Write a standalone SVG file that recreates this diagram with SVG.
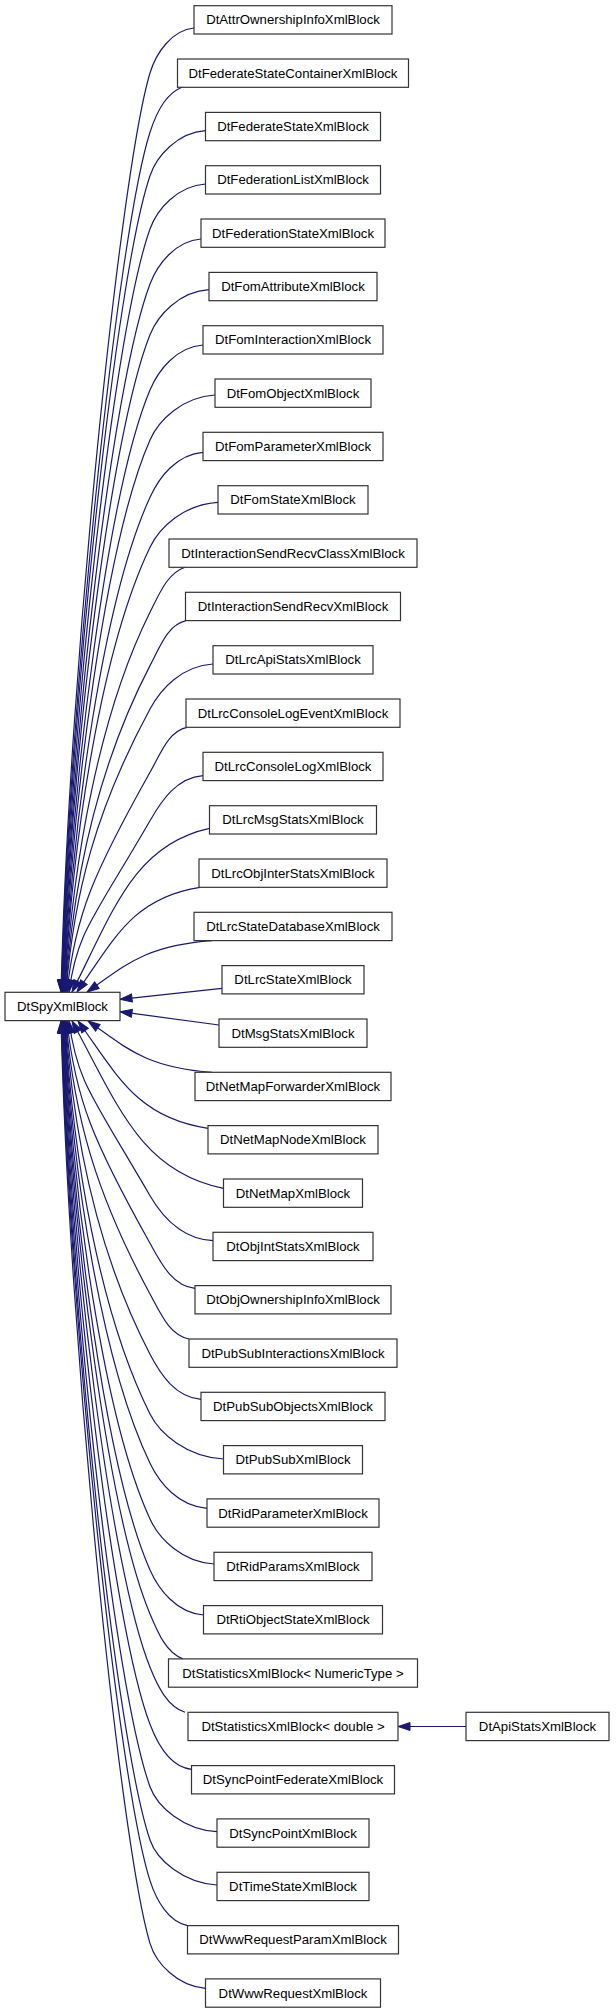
<svg xmlns="http://www.w3.org/2000/svg" width="616" height="2013" viewBox="0 0 616 2013">
<style>
.n rect{fill:#fff;stroke:#333;stroke-width:1.2}
.n text{font-family:"Liberation Sans",Arial,sans-serif;font-size:13.2px;text-anchor:middle;fill:#000}
.e path{fill:none;stroke:#191970;stroke-width:1.2;marker-end:url(#arr)}
</style>
<defs>
<marker id="arr" markerWidth="12" markerHeight="8" refX="12" refY="4" orient="auto" markerUnits="userSpaceOnUse" overflow="visible">
<path d="M0,0 L12,4 L0,8 Z" fill="#191970" stroke="#191970" stroke-width="1"/>
</marker>
</defs>
<rect width="616" height="2013" fill="#fff"/>
<g id="edges" class="e">
<path d="M194,28 C172,30 156,53 150,73 C120,173 69,670.4 61,992"/>
<path d="M182,87.3 C166,93.3 156.4,112.3 150,132.3 C118,232.3 69.4,691.1 61.4,992"/>
<path d="M205.5,130.7 C177.5,132.7 156.8,155.7 150,175.7 C116,275.7 69.8,706.3 61.8,992"/>
<path d="M205.5,184 C177.5,186 157.2,209 150,229 C114,329 70.2,725 62.2,992"/>
<path d="M201,239 C175.5,241 157.6,264 150,284 C112,384 70.6,744.2 62.6,992"/>
<path d="M209,289.7 C179.5,291.7 158,314.7 150,334.7 C110,434.7 71,761.9 63,992"/>
<path d="M203,345 C176.5,347 158.4,370 150,390 C108,490 71.4,781.3 63.4,992"/>
<path d="M215,395 C182.5,397 158.8,420 150,440 C106,540 71.8,798.8 63.8,992"/>
<path d="M203,452.3 C176.5,454.3 159.2,477.3 150,497.3 C104,597.3 72.2,818.9 64.2,992"/>
<path d="M218,502.3 C184,504.3 159.6,527.3 150,547.3 C102,647.3 72.6,836.4 64.6,992"/>
<path d="M185,567.3 C167.5,573.3 160,592.3 150,612.3 C100,712.3 73,859.1 65,992"/>
<path d="M186,620.6 C168,624.6 160.4,645.6 150,665.6 C98,765.6 73.5,877.8 65.5,992"/>
<path d="M213,664 C181.5,666 160.8,689 150,709 C96,809 74,893 66,992"/>
<path d="M187,727.3 C168.5,731.3 161.2,752.3 150,772.3 C94,872.3 75,915.1 67,992"/>
<path d="M203,775.7 C176.5,777.7 161.6,800.7 150,820.7 C92,920.7 77,932 69,992"/>
<path d="M209.5,828.3 C134.1,844.7 113.4,910.2 72,992"/>
<path d="M200,887.3 C132.4,897.8 113.9,939.6 77,992"/>
<path d="M212,940.6 C143.3,945.7 124.5,966.3 87,992"/>
<path d="M222,988.3 L120,999.3"/>
<path d="M219,1025 L120,1011.7"/>
<path d="M212,1072.3 C143.8,1067.2 125.2,1046.7 88,1021"/>
<path d="M208,1128.3 C136.5,1117.6 117,1074.7 78,1021"/>
<path d="M223.5,1188.3 C140.4,1171.6 117.6,1104.7 72,1021"/>
<path d="M213,1240.7 C181.5,1238.7 161.6,1215.7 150,1195.7 C92,1095.7 77,1082.1 69,1021"/>
<path d="M195,1288.3 C172.5,1286.3 161.2,1263.3 150,1243.3 C94,1143.3 75,1098.8 67,1021"/>
<path d="M189,1339 C169.5,1335 160.8,1314 150,1294 C96,1194 74,1116.6 66,1021"/>
<path d="M201,1399.3 C175.5,1397.3 160.4,1374.3 150,1354.3 C98,1254.3 73.5,1137.7 65.5,1021"/>
<path d="M223.5,1459 C187,1457 160,1434 150,1414 C100,1314 73,1158.6 65,1021"/>
<path d="M207,1508.3 C178.5,1506.3 159.6,1483.3 150,1463.3 C102,1363.3 72.6,1175.8 64.6,1021"/>
<path d="M214,1564 C182,1562 159.2,1539 150,1519 C104,1419 72.2,1195.3 64.2,1021"/>
<path d="M203.5,1615 C177,1613 158.8,1590 150,1570 C106,1470 71.8,1213.2 63.8,1021"/>
<path d="M183,1658.9 C166.5,1652.9 158.4,1633.9 150,1613.9 C108,1513.9 71.4,1228.5 63.4,1021"/>
<path d="M185,1712.3 C167.5,1706.3 158,1687.3 150,1667.3 C110,1567.3 71,1247.2 63,1021"/>
<path d="M191.5,1769.3 C170.5,1767.3 157.6,1744.3 150,1724.3 C112,1624.3 70.6,1267.2 62.6,1021"/>
<path d="M217,1831.7 C183.5,1829.7 157.2,1806.7 150,1786.7 C114,1686.7 70.2,1289 62.2,1021"/>
<path d="M217,1885 C183.5,1883 156.8,1860 150,1840 C116,1740 69.8,1307.7 61.8,1021"/>
<path d="M187.5,1925.6 C168.5,1921.6 156.4,1900.6 150,1880.6 C118,1780.6 69.4,1321.9 61.4,1021"/>
<path d="M205.5,1988.3 C177.5,1986.3 156,1963.3 150,1943.3 C120,1843.3 69,1343.8 61,1021"/>
<path d="M466,1726.5 L398,1726.5"/>
</g>
<g id="DtSpyXmlBlock" class="n"><rect x="5" y="992.3" width="115" height="28.3"/><text x="62.5" y="1011">DtSpyXmlBlock</text></g>
<g id="DtAttrOwnershipInfoXmlBlock" class="n"><rect x="194" y="5.7" width="198" height="28.3"/><text x="293" y="24.4">DtAttrOwnershipInfoXmlBlock</text></g>
<g id="DtFederateStateContainerXmlBlock" class="n"><rect x="177.5" y="59" width="231" height="28.3"/><text x="293" y="77.7">DtFederateStateContainerXmlBlock</text></g>
<g id="DtFederateStateXmlBlock" class="n"><rect x="205.5" y="112.4" width="175" height="28.3"/><text x="293" y="131.1">DtFederateStateXmlBlock</text></g>
<g id="DtFederationListXmlBlock" class="n"><rect x="205.5" y="165.7" width="175" height="28.3"/><text x="293" y="184.4">DtFederationListXmlBlock</text></g>
<g id="DtFederationStateXmlBlock" class="n"><rect x="201" y="219" width="184" height="28.3"/><text x="293" y="237.7">DtFederationStateXmlBlock</text></g>
<g id="DtFomAttributeXmlBlock" class="n"><rect x="209" y="272.4" width="168" height="28.3"/><text x="293" y="291.1">DtFomAttributeXmlBlock</text></g>
<g id="DtFomInteractionXmlBlock" class="n"><rect x="203" y="325.7" width="180" height="28.3"/><text x="293" y="344.4">DtFomInteractionXmlBlock</text></g>
<g id="DtFomObjectXmlBlock" class="n"><rect x="215" y="379" width="156" height="28.3"/><text x="293" y="397.7">DtFomObjectXmlBlock</text></g>
<g id="DtFomParameterXmlBlock" class="n"><rect x="203" y="432.3" width="180" height="28.3"/><text x="293" y="451">DtFomParameterXmlBlock</text></g>
<g id="DtFomStateXmlBlock" class="n"><rect x="218" y="485.7" width="150" height="28.3"/><text x="293" y="504.4">DtFomStateXmlBlock</text></g>
<g id="DtInteractionSendRecvClassXmlBlock" class="n"><rect x="169" y="539" width="248" height="28.3"/><text x="293" y="557.7">DtInteractionSendRecvClassXmlBlock</text></g>
<g id="DtInteractionSendRecvXmlBlock" class="n"><rect x="185.5" y="592.3" width="215" height="28.3"/><text x="293" y="611">DtInteractionSendRecvXmlBlock</text></g>
<g id="DtLrcApiStatsXmlBlock" class="n"><rect x="213" y="645.7" width="160" height="28.3"/><text x="293" y="664.4">DtLrcApiStatsXmlBlock</text></g>
<g id="DtLrcConsoleLogEventXmlBlock" class="n"><rect x="186" y="699" width="214" height="28.3"/><text x="293" y="717.7">DtLrcConsoleLogEventXmlBlock</text></g>
<g id="DtLrcConsoleLogXmlBlock" class="n"><rect x="203" y="752.3" width="180" height="28.3"/><text x="293" y="771">DtLrcConsoleLogXmlBlock</text></g>
<g id="DtLrcMsgStatsXmlBlock" class="n"><rect x="209.5" y="805.7" width="167" height="28.3"/><text x="293" y="824.4">DtLrcMsgStatsXmlBlock</text></g>
<g id="DtLrcObjInterStatsXmlBlock" class="n"><rect x="199" y="859" width="188" height="28.3"/><text x="293" y="877.7">DtLrcObjInterStatsXmlBlock</text></g>
<g id="DtLrcStateDatabaseXmlBlock" class="n"><rect x="194" y="912.3" width="198" height="28.3"/><text x="293" y="931">DtLrcStateDatabaseXmlBlock</text></g>
<g id="DtLrcStateXmlBlock" class="n"><rect x="222" y="965.6" width="142" height="28.3"/><text x="293" y="984.3">DtLrcStateXmlBlock</text></g>
<g id="DtMsgStatsXmlBlock" class="n"><rect x="219" y="1019" width="148" height="28.3"/><text x="293" y="1037.7">DtMsgStatsXmlBlock</text></g>
<g id="DtNetMapForwarderXmlBlock" class="n"><rect x="195" y="1072.3" width="196" height="28.3"/><text x="293" y="1091">DtNetMapForwarderXmlBlock</text></g>
<g id="DtNetMapNodeXmlBlock" class="n"><rect x="208" y="1125.6" width="170" height="28.3"/><text x="293" y="1144.3">DtNetMapNodeXmlBlock</text></g>
<g id="DtNetMapXmlBlock" class="n"><rect x="223.5" y="1179" width="139" height="28.3"/><text x="293" y="1197.7">DtNetMapXmlBlock</text></g>
<g id="DtObjIntStatsXmlBlock" class="n"><rect x="213" y="1232.3" width="160" height="28.3"/><text x="293" y="1251">DtObjIntStatsXmlBlock</text></g>
<g id="DtObjOwnershipInfoXmlBlock" class="n"><rect x="195" y="1285.6" width="196" height="28.3"/><text x="293" y="1304.3">DtObjOwnershipInfoXmlBlock</text></g>
<g id="DtPubSubInteractionsXmlBlock" class="n"><rect x="189" y="1339" width="208" height="28.3"/><text x="293" y="1357.7">DtPubSubInteractionsXmlBlock</text></g>
<g id="DtPubSubObjectsXmlBlock" class="n"><rect x="201" y="1392.3" width="184" height="28.3"/><text x="293" y="1411">DtPubSubObjectsXmlBlock</text></g>
<g id="DtPubSubXmlBlock" class="n"><rect x="223.5" y="1445.6" width="139" height="28.3"/><text x="293" y="1464.3">DtPubSubXmlBlock</text></g>
<g id="DtRidParameterXmlBlock" class="n"><rect x="207" y="1498.9" width="172" height="28.3"/><text x="293" y="1517.6">DtRidParameterXmlBlock</text></g>
<g id="DtRidParamsXmlBlock" class="n"><rect x="214" y="1552.3" width="158" height="28.3"/><text x="293" y="1571">DtRidParamsXmlBlock</text></g>
<g id="DtRtiObjectStateXmlBlock" class="n"><rect x="203.5" y="1605.6" width="179" height="28.3"/><text x="293" y="1624.3">DtRtiObjectStateXmlBlock</text></g>
<g id="DtStatisticsXmlBlock_NumericType" class="n"><rect x="168.5" y="1658.9" width="249" height="28.3"/><text x="293" y="1677.6">DtStatisticsXmlBlock&lt; NumericType &gt;</text></g>
<g id="DtStatisticsXmlBlock_double" class="n"><rect x="188" y="1712.3" width="210" height="28.3"/><text x="293" y="1731">DtStatisticsXmlBlock&lt; double &gt;</text></g>
<g id="DtApiStatsXmlBlock" class="n"><rect x="466" y="1712.3" width="143" height="28.3"/><text x="537.5" y="1731">DtApiStatsXmlBlock</text></g>
<g id="DtSyncPointFederateXmlBlock" class="n"><rect x="191.5" y="1765.6" width="203" height="28.3"/><text x="293" y="1784.3">DtSyncPointFederateXmlBlock</text></g>
<g id="DtSyncPointXmlBlock" class="n"><rect x="217" y="1818.9" width="152" height="28.3"/><text x="293" y="1837.6">DtSyncPointXmlBlock</text></g>
<g id="DtTimeStateXmlBlock" class="n"><rect x="217" y="1872.3" width="152" height="28.3"/><text x="293" y="1891">DtTimeStateXmlBlock</text></g>
<g id="DtWwwRequestParamXmlBlock" class="n"><rect x="187.5" y="1925.6" width="211" height="28.3"/><text x="293" y="1944.3">DtWwwRequestParamXmlBlock</text></g>
<g id="DtWwwRequestXmlBlock" class="n"><rect x="205.5" y="1978.9" width="175" height="28.3"/><text x="293" y="1997.6">DtWwwRequestXmlBlock</text></g>
</svg>
